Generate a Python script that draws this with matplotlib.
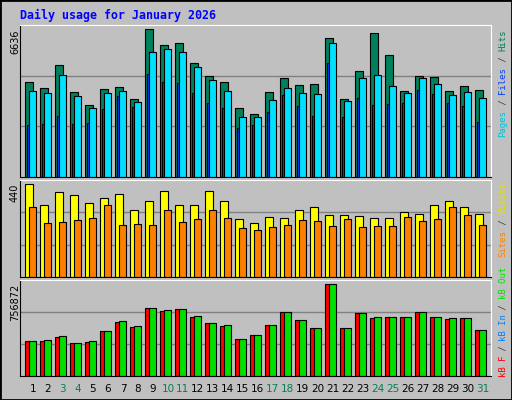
import numpy as np
import matplotlib.pyplot as plt
from matplotlib.patches import Rectangle

days = np.arange(1, 32)
weekend = [3, 4, 10, 11, 17, 18, 24, 25, 31]

hits = [4248, 3978, 5013, 3798, 3257, 3933, 4023, 3527, 6636, 5914, 6004, 5103, 4518, 4248, 3122, 2852,
        3798, 4428, 4113, 4158, 6229, 3527, 4743, 6454, 5464, 3843, 4518, 4473, 3843, 4068, 3888]
files = [3843, 3753, 4563, 3617, 3122, 3753, 3843, 3392, 5599, 5734, 5599, 4923, 4338, 3843, 2717, 2717,
         3482, 3978, 3753, 3707, 6004, 3437, 4428, 4563, 4068, 3753, 4428, 4158, 3662, 3798, 3572]
pages = [2357, 2402, 2762, 2402, 2447, 3077, 3617, 3167, 4608, 4248, 4203, 3753, 3347, 3122, 2221, 2357,
         2942, 3662, 3212, 2762, 5103, 2717, 3572, 3257, 3302, 3347, 3888, 3707, 3347, 3212, 2492]
visits = [440, 344, 402, 387, 349, 373, 392, 320, 363, 406, 344, 344, 406, 363, 277, 258,
          287, 282, 320, 330, 296, 296, 292, 282, 282, 311, 301, 344, 359, 330, 301]
sites = [330, 258, 263, 273, 282, 344, 249, 253, 249, 316, 263, 277, 320, 282, 234, 225,
         239, 249, 273, 268, 244, 277, 239, 244, 244, 287, 268, 277, 330, 296, 249]
kb_out = [284486, 292772, 325916, 267914, 284486, 367346, 450206, 408776, 557924, 541352, 549638, 491636,
          433634, 417062, 301058, 334202, 417062, 524780, 458492, 392204, 756872, 392204, 516494, 483350,
          483350, 483350, 524780, 483350, 475064, 475064, 375632]
kb_f = [284486, 284486, 317630, 267914, 276200, 367346, 441920, 400490, 557924, 533066, 549638, 483350,
        433634, 408776, 301058, 334202, 417062, 524780, 458492, 392204, 756872, 392204, 516494, 475064,
        483350, 483350, 524780, 483350, 466778, 475064, 375632]

BG = '#c0c0c0'
W, H = 512, 400
fig = plt.figure(figsize=(5.12, 4.0), dpi=100, facecolor=BG)
fig.patches.append(Rectangle((0, 0), 1, 1, transform=fig.transFigure, fill=False,
                             edgecolor='black', linewidth=2))

def panel(top, bottom):
    ax = fig.add_axes([20 / W, 1 - bottom / H, 471 / W, (bottom - top) / H])
    ax.set_facecolor(BG)
    ax.set_xlim(0.647, 32.05)
    for s in ['left', 'bottom']:
        ax.spines[s].set_color('black')
    for s in ['top', 'right']:
        ax.spines[s].set_color('white')
    ax.set_xticks([])
    ax.set_yticks([])
    return ax

def grid(ax, top):
    ax.set_ylim(0, top)
    for f in (1 / 3, 2 / 3):
        ax.axhline(top * f, color='#808080', lw=1, zorder=0)

kw = dict(align='edge', edgecolor='black', linewidth=0.8)

ax1 = panel(25, 177)
grid(ax1, 6636 * 151.7 / 147.4)
ax1.bar(days, hits, width=0.49, color='#00805c', **kw)
ax1.bar(days + 0.11, pages, width=0.18, color='#0040ff', **kw)
ax1.bar(days + 0.267, files, width=0.45, color='#00e0ff', **kw)

ax2 = panel(180, 277)
grid(ax2, 440 * 96.3 / 92)
ax2.bar(days, visits, width=0.49, color='#ffff00', **kw)
ax2.bar(days + 0.267, sites, width=0.45, color='#ff8000', **kw)

ax3 = panel(280, 376)
grid(ax3, 756872 * 95.4 / 91.4)
ax3.bar(days, kb_f, width=0.3, color='#ff0000', **kw)
ax3.bar(days + 0.267, kb_out, width=0.47, color='#00e000', **kw)

for d in days:
    ax3.text(d + 0.51, -0.135, str(d), transform=ax3.get_xaxis_transform(), ha='center', va='center',
             fontsize=7.5, color='#00805c' if d in weekend else 'black')

fig.text(20 / W, 1 - 15 / H, 'Daily usage for January 2026', color='#0000ff', fontsize=8.4,
         fontweight='bold', family='DejaVu Sans Mono', va='center')

for ypx, lab in [(29, '6636'), (184, '440'), (284, '756872')]:
    fig.text(15 / W, 1 - ypx / H, lab, rotation=90, fontsize=7, ha='center', va='top')

def side(bottom_px, parts, step=5.4):
    y = bottom_px
    for t, c in parts:
        fig.text(503 / W, 1 - y / H, t, rotation=90, fontsize=6.5, color=c,
                 family='DejaVu Sans Mono', ha='center', va='bottom')
        y -= len(t) * step

side(137, [('Pages', '#00c0e0'), (' / ', '#404040'), ('Files', '#0040ff'),
           (' / ', '#404040'), ('Hits', '#00805c')])
side(257, [('Sites', '#ff8000'), (' / ', '#404040'), ('Visits', '#e0e000')])
side(377, [('kB F', '#ff0000'), (' / ', '#404040'), ('kB In', '#0080ff'),
           (' / ', '#404040'), ('kB Out', '#00e000')], step=5.2)

fig.savefig('out.png', dpi=100, facecolor=BG)
